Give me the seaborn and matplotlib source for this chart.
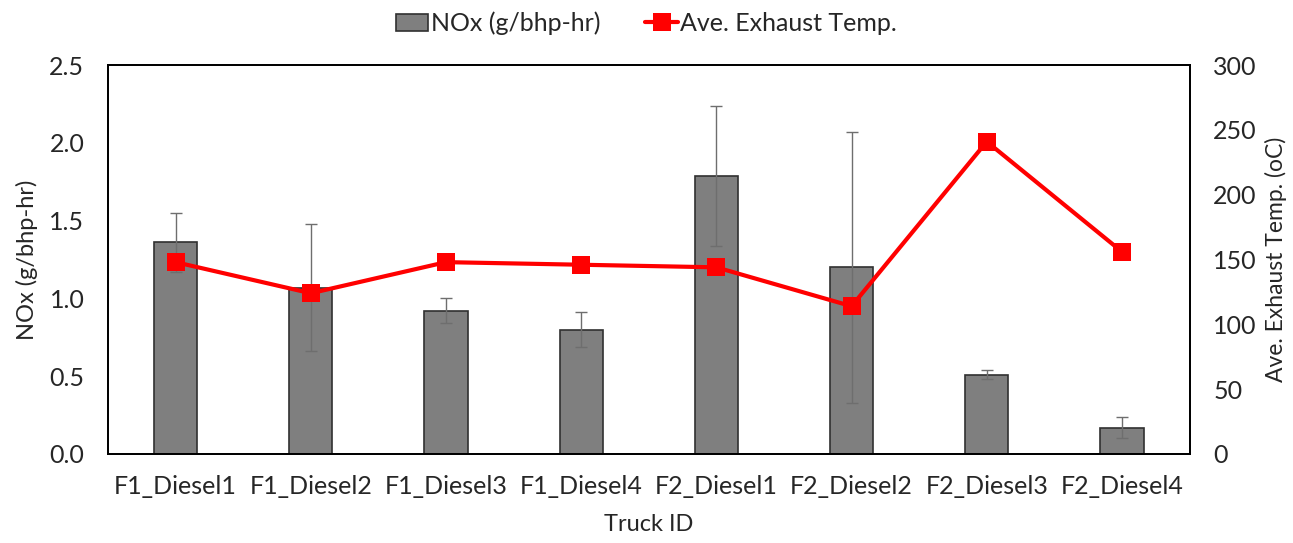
import numpy as np
import pandas as pd
import matplotlib
matplotlib.use("Agg")
import matplotlib.pyplot as plt
import seaborn as sns

trucks = ["F1_Diesel1", "F1_Diesel2", "F1_Diesel3", "F1_Diesel4",
          "F2_Diesel1", "F2_Diesel2", "F2_Diesel3", "F2_Diesel4"]
nox = [1.36, 1.07, 0.92, 0.80, 1.79, 1.20, 0.51, 0.17]
nox_err = [0.19, 0.41, 0.08, 0.11, 0.45, 0.87, 0.03, 0.07]
temp = [148, 124, 148, 146, 144, 114, 241, 156]

sns.set_theme(style="white")
plt.rcParams['font.family'] = ['Lato', 'DejaVu Sans']

df = pd.DataFrame({"Truck ID": trucks, "NOx": nox, "err": nox_err, "Temp": temp})

fig = plt.figure(figsize=(12.93, 5.43), dpi=100)
ax = fig.add_axes([0.0835, 0.164, 0.8365, 0.716])

sns.barplot(data=df, x="Truck ID", y="NOx", color="#7f7f7f", saturation=1,
            width=0.32, edgecolor="#303030", linewidth=1.2, ax=ax,
            label="NOx (g/bhp-hr)", errorbar=None)
if ax.get_legend() is not None:
    ax.get_legend().remove()
xpos = np.arange(len(trucks))
ax.errorbar(xpos, df["NOx"], yerr=df["err"], fmt="none", ecolor="#6e6e6e",
            elinewidth=1.0, capsize=4, capthick=1.0, zorder=3)

ax2 = ax.twinx()
sns.lineplot(x=xpos, y=df["Temp"], ax=ax2, color="#ff0000", linewidth=3,
             marker="s", markersize=13, markeredgewidth=0,
             label="Ave. Exhaust Temp.", legend=False)

ax.set_xlim(-0.5, len(trucks) - 0.5)
ax.set_ylim(0, 2.5)
ax.set_yticks(np.arange(0, 2.51, 0.5))
ax.set_yticklabels([f"{v:.1f}" for v in np.arange(0, 2.51, 0.5)])
ax2.set_ylim(0, 300)
ax2.set_yticks(range(0, 301, 50))

ax.set_xlabel("Truck ID", fontsize=17, labelpad=12)
ax.set_ylabel("NOx (g/bhp-hr)", fontsize=17, labelpad=8)
ax2.set_ylabel("Ave. Exhaust Temp. (oC)", fontsize=16.5, labelpad=6)
ax.tick_params(axis="x", labelsize=18, length=0, pad=15)
ax.tick_params(axis="y", labelsize=18, length=0, pad=17)
ax2.tick_params(axis="y", labelsize=18, length=0, pad=17)

for a in (ax, ax2):
    for s in a.spines.values():
        s.set_color("black")
        s.set_linewidth(1.3)

h1, l1 = ax.get_legend_handles_labels()
h2, l2 = ax2.get_legend_handles_labels()
fig.legend(h1 + h2, l1 + l2, loc="upper center", bbox_to_anchor=(0.5, 1.02),
           ncol=2, frameon=False, fontsize=18, handlelength=1.3,
           columnspacing=1.8, handletextpad=0.1)

fig.savefig("out.png", dpi=100)
